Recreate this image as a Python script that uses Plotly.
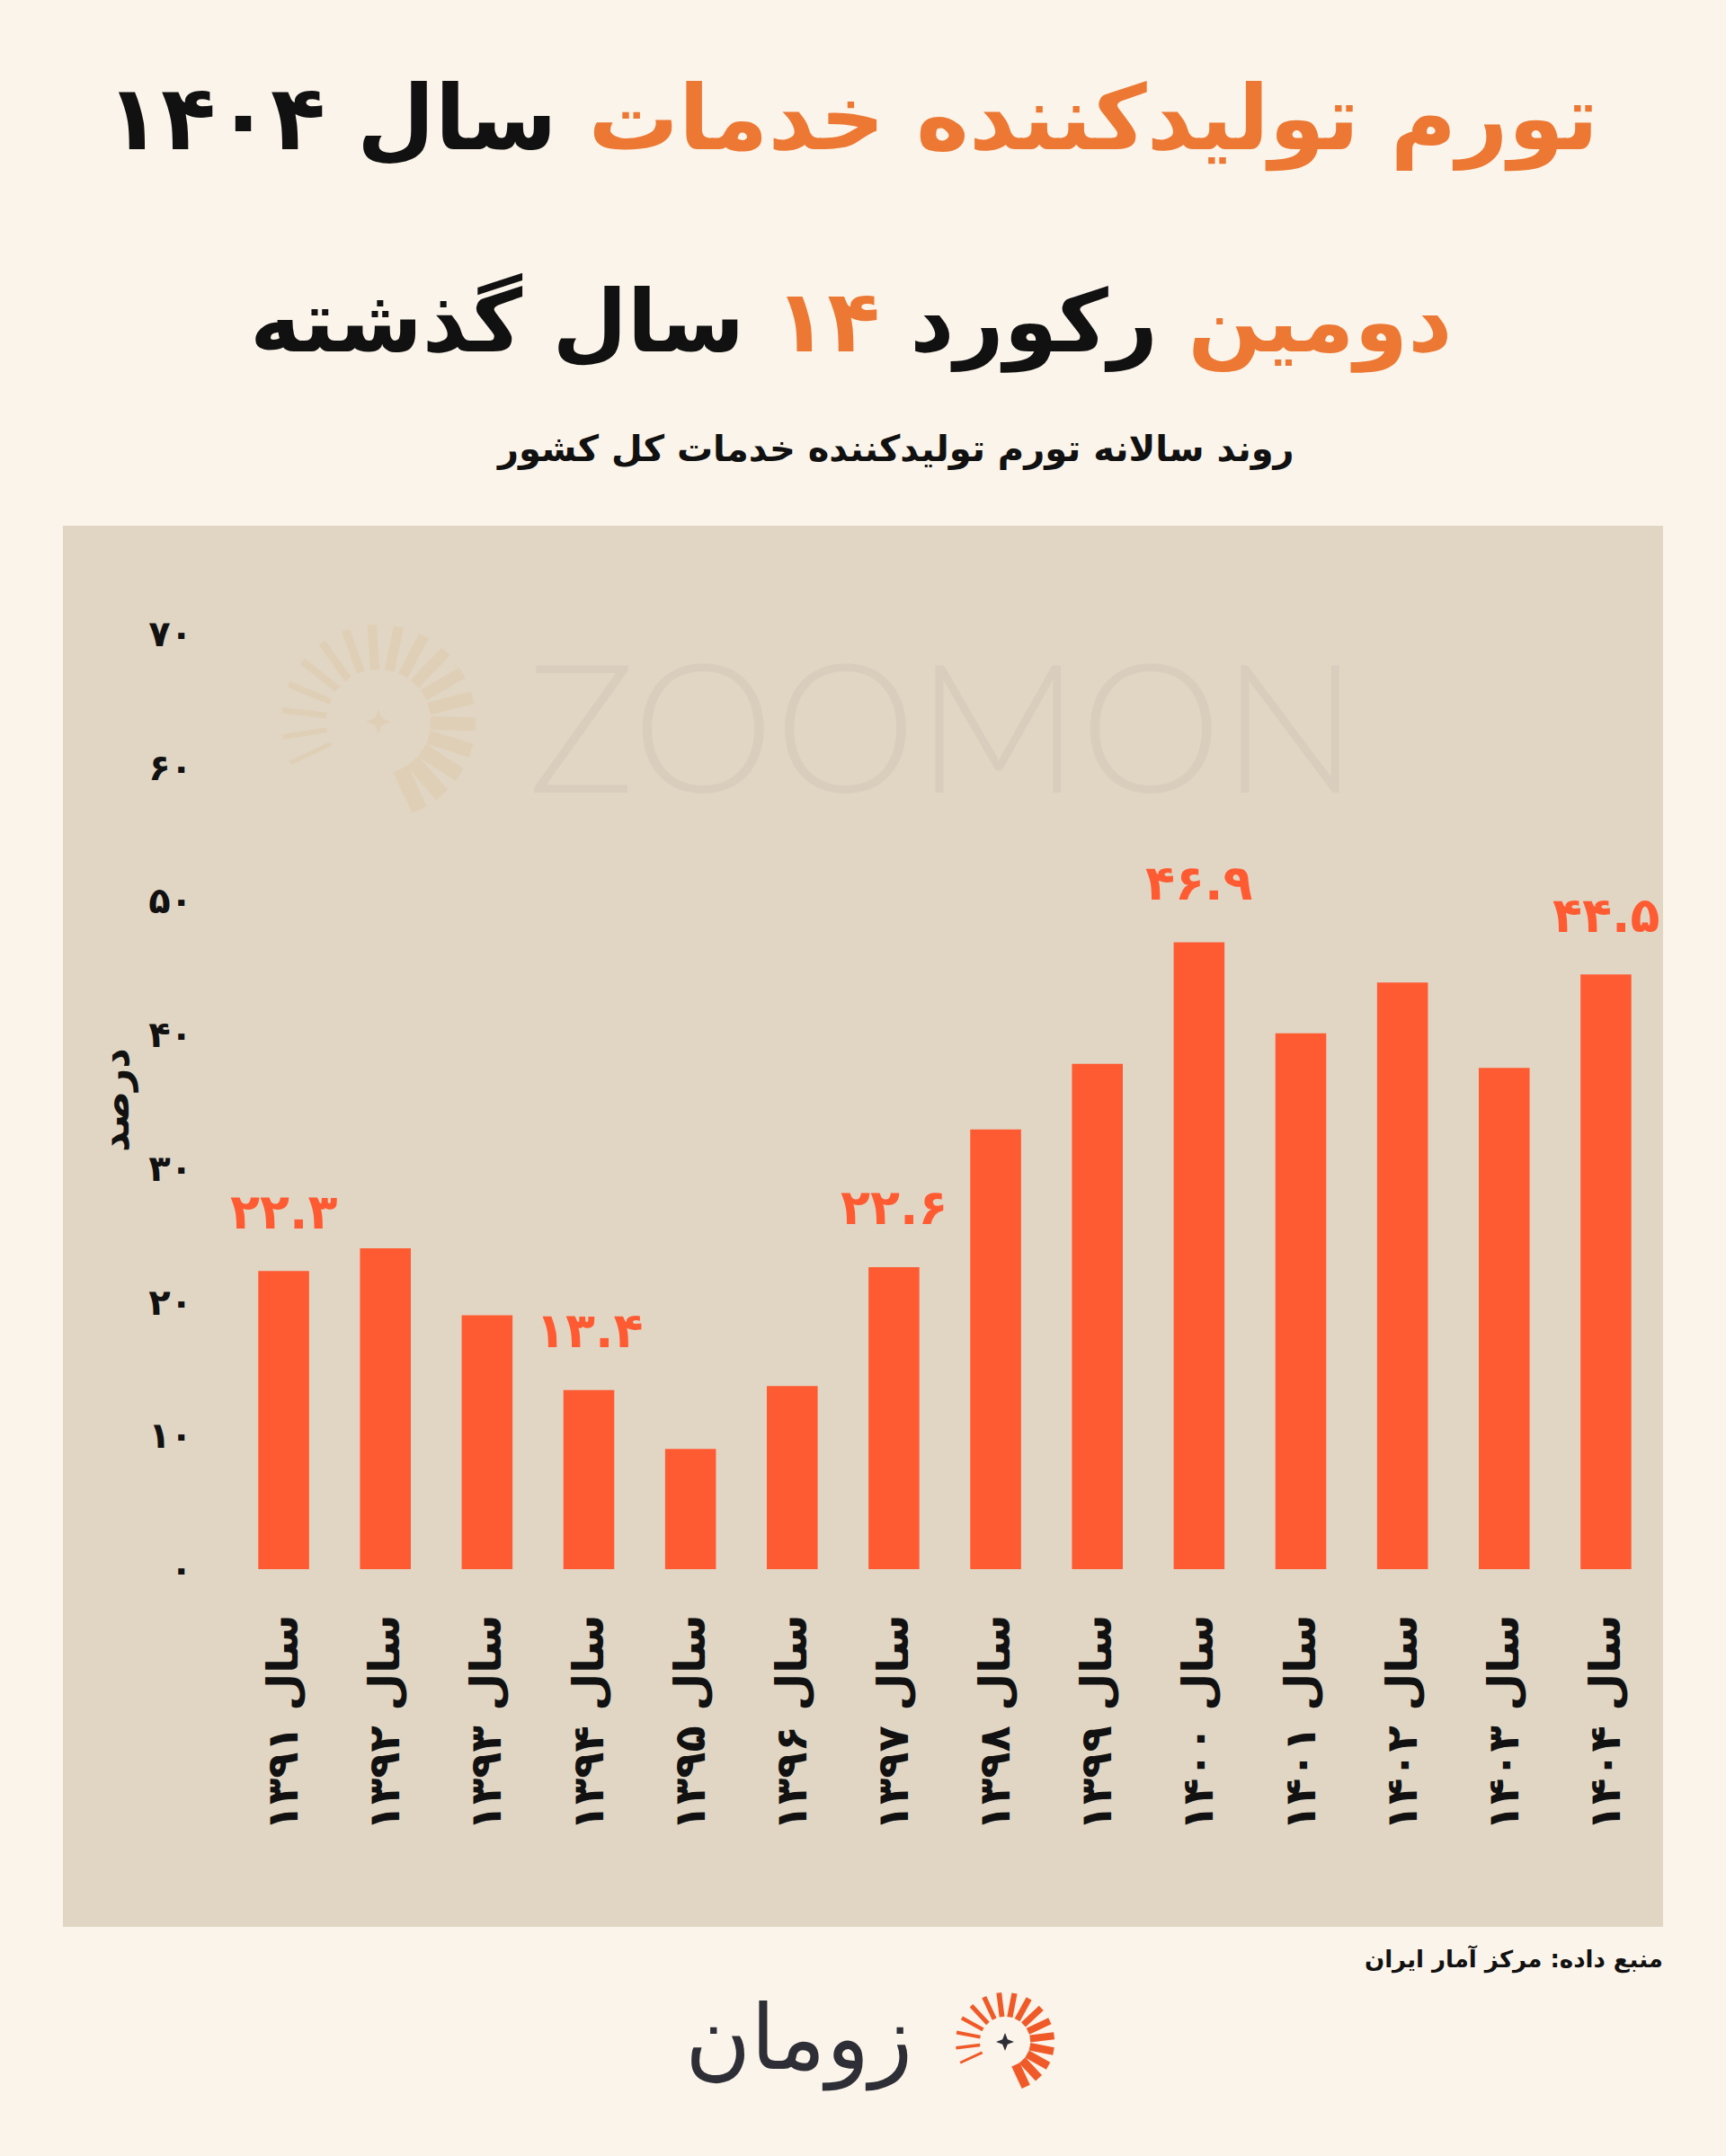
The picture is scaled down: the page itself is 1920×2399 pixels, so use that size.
import math
import plotly.graph_objects as go

# ---------------- data ----------------
years = ["سال ۱۳۹۱", "سال ۱۳۹۲", "سال ۱۳۹۳", "سال ۱۳۹۴", "سال ۱۳۹۵", "سال ۱۳۹۶", "سال ۱۳۹۷",
         "سال ۱۳۹۸", "سال ۱۳۹۹", "سال ۱۴۰۰", "سال ۱۴۰۱", "سال ۱۴۰۲", "سال ۱۴۰۳", "سال ۱۴۰۴"]
inflation = [22.3, 24.0, 19.0, 13.4, 9.0, 13.7, 22.6, 32.9, 37.8, 46.9, 40.1, 43.9, 37.5, 44.5]
labelled_years = ["سال ۱۳۹۱", "سال ۱۳۹۴", "سال ۱۳۹۷", "سال ۱۴۰۰", "سال ۱۴۰۴"]
ytick_vals = [0, 10, 20, 30, 40, 50, 60, 70]
ytick_text = ["۰", "۱۰", "۲۰", "۳۰", "۴۰", "۵۰", "۶۰", "۷۰"]

title_line1_orange = "تورم تولیدکننده خدمات"
title_line1_black = "سال ۱۴۰۴"
title_line2 = [("دومین", "orange"), ("رکورد", "black"), ("۱۴", "orange"), ("سال گذشته", "black")]
subtitle = "روند سالانه تورم تولیدکننده خدمات کل کشور"
y_title = "درصد"
source = "منبع داده: مرکز آمار ایران"
brand = "زومان"
watermark = "ZOOMON"

# ---------------- style ----------------
W, H = 1920, 2399
L, R, T, B = 259, 77, 705, 653
PW, PH = W - L - R, H - T - B
BG = "#FBF4EA"
PANEL = "#E1D6C4"
BAR = "#FF5B33"
ORANGE = "#EC7833"
BLACK = "#111111"
FONT = "DejaVu Sans"

FA = str.maketrans("0123456789", "۰۱۲۳۴۵۶۷۸۹")


def fa(v):
    return f"{v:.1f}".translate(FA)


def px(x):
    return (x - L) / PW


def py(y):
    return (H - B - y) / PH


fig = go.Figure()
fig.add_trace(go.Bar(
    x=years, y=inflation, marker=dict(color=BAR, line=dict(width=0)),
    width=0.5, hoverinfo="skip",
))

shapes = []
# background panel
shapes.append(dict(type="rect", xref="paper", yref="paper", x0=px(70), x1=px(1850),
                   y0=py(2144), y1=py(585), fillcolor=PANEL, line=dict(width=0), layer="below"))


def sunburst(cx, cy, r_in, r_out, color, n, a_start, a_end, w0, w1, star, star_color, layer):
    out = []
    for i in range(n):
        t = i / (n - 1)
        a = math.radians(a_start + (a_end - a_start) * t)
        x0, y0 = cx + r_in * math.cos(a), cy - r_in * math.sin(a)
        x1, y1 = cx + r_out * math.cos(a), cy - r_out * math.sin(a)
        out.append(dict(type="line", xref="paper", yref="paper", x0=px(x0), y0=py(y0),
                        x1=px(x1), y1=py(y1), line=dict(color=color, width=w0 + (w1 - w0) * t),
                        layer=layer))
    s, k = star, star * 0.28
    pts = [(cx, cy - s), (cx + k, cy - k), (cx + s, cy), (cx + k, cy + k),
           (cx, cy + s), (cx - k, cy + k), (cx - s, cy), (cx - k, cy - k)]
    path = "M " + " L ".join(f"{px(a):.5f},{py(b):.5f}" for a, b in pts) + " Z"
    out.append(dict(type="path", xref="paper", yref="paper", path=path,
                    fillcolor=star_color, line=dict(width=0), layer=layer))
    return out


# faint watermark icon inside the panel
shapes += sunburst(421, 803, 58, 108, "#DFCFB6", 18, 205, -65, 5, 18, 14, "#DFCFB6", "below")
# brand logo icon at the bottom
shapes += sunburst(1118, 2272, 28, 55, "#F05A28", 16, 205, -65, 3, 10, 10, "#2E2E36", "above")

annotations = []
# watermark text
annotations.append(dict(xref="paper", yref="paper", x=px(1048), y=py(805), text=watermark,
                        showarrow=False, xanchor="center", yanchor="middle",
                        font=dict(family="Lato", size=200, color="#D9CEBD", weight=300)))
# titles
annotations.append(dict(
    xref="paper", yref="paper", x=px(948), y=py(132), xanchor="center", yanchor="middle",
    showarrow=False,
    text=f"<span style='color:{ORANGE}'>{title_line1_orange}</span> {title_line1_black}",
    font=dict(family=FONT, size=100, color=BLACK, weight="bold")))
line2 = " ".join(f"<span style='color:{ORANGE if c == 'orange' else BLACK}'>{w}</span>"
                 for w, c in title_line2)
annotations.append(dict(
    xref="paper", yref="paper", x=px(946), y=py(358), xanchor="center", yanchor="middle",
    showarrow=False, text=line2,
    font=dict(family=FONT, size=96, color=BLACK, weight="bold")))
annotations.append(dict(
    xref="paper", yref="paper", x=px(996), y=py(500), xanchor="center", yanchor="middle",
    showarrow=False, text=subtitle,
    font=dict(family=FONT, size=40, color=BLACK, weight="bold")))
# y axis title
annotations.append(dict(
    xref="paper", yref="paper", x=px(128), y=py(1224), xanchor="center", yanchor="middle",
    showarrow=False, text=y_title, textangle=-90,
    font=dict(family=FONT, size=44, color=BLACK, weight="bold")))
# value labels
for yr, v in zip(years, inflation):
    if yr in labelled_years:
        annotations.append(dict(
            x=yr, y=v, xref="x", yref="y", text=fa(v), showarrow=False,
            yanchor="middle", xanchor="center", yshift=66,
            font=dict(family=FONT, size=54, color=BAR, weight="bold")))
# source
annotations.append(dict(
    xref="paper", yref="paper", x=px(1852), y=py(2180), xanchor="right", yanchor="middle",
    showarrow=False, text=source,
    font=dict(family=FONT, size=26, color=BLACK, weight="bold")))
# brand text
annotations.append(dict(
    xref="paper", yref="paper", x=px(888), y=py(2268), xanchor="center", yanchor="middle",
    showarrow=False, text=brand,
    font=dict(family=FONT, size=100, color="#2E2E36", weight=300)))

fig.update_layout(
    width=W, height=H,
    margin=dict(l=L, r=R, t=T, b=B, pad=0),
    paper_bgcolor=BG, plot_bgcolor="rgba(0,0,0,0)",
    showlegend=False,
    bargap=0.5,
    shapes=shapes, annotations=annotations,
    xaxis=dict(
        type="category", range=[-0.5, 13.5], showgrid=False, zeroline=False, showline=False,
        ticks="", tickangle=-90, ticklabelstandoff=40,
        tickfont=dict(family=FONT, size=48, color=BLACK, weight="bold"),
    ),
    yaxis=dict(
        range=[0, 70], showgrid=False, zeroline=False, showline=False, ticks="",
        tickvals=ytick_vals, ticktext=ytick_text, ticklabelstandoff=44,
        tickfont=dict(family=FONT, size=40, color=BLACK, weight="bold"),
    ),
)

fig.write_html("out.html")
